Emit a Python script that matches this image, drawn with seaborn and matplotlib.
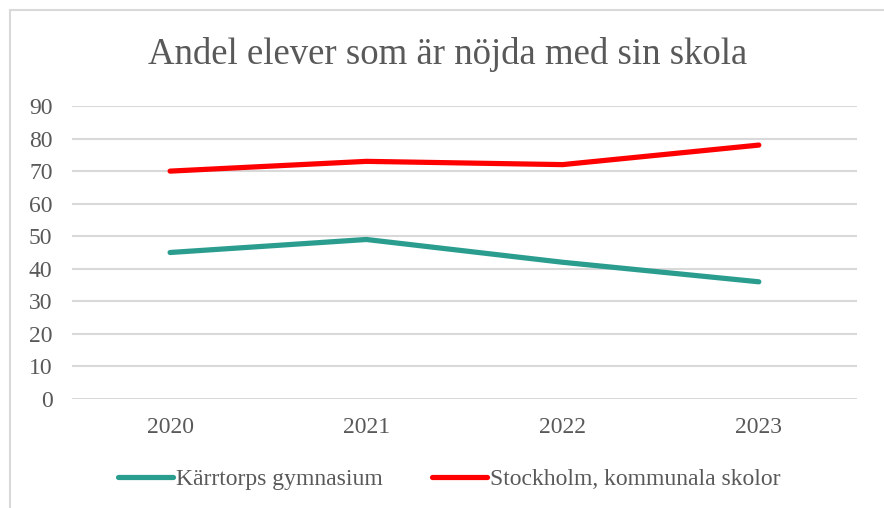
import pandas as pd
import matplotlib.pyplot as plt
import matplotlib.patches as mpatches
import seaborn as sns

# data
years = ['2020', '2021', '2022', '2023']
karrtorp = [45, 49, 42, 36]
stockholm = [70, 73, 72, 78]
series_names = ['Kärrtorps gymnasium', 'Stockholm, kommunala skolor']
colors = ['#2A9D8F', '#FF0000']

df = pd.DataFrame({
    'År': years * 2,
    'Andel': karrtorp + stockholm,
    'Serie': [series_names[0]] * 4 + [series_names[1]] * 4,
})

sns.set_style('white')
plt.rcParams['font.family'] = ['Liberation Serif', 'DejaVu Serif']
text_color = '#595959'

fig = plt.figure(figsize=(8.84, 5.08), dpi=100)
ax = fig.add_axes([0.0814, 0.2146, 0.888, 0.5767])

# chart border (only left and top visible in the crop)
fig.patches.append(mpatches.Rectangle((0.011, -0.05), 1.2, 1.03, transform=fig.transFigure,
                                      fill=False, edgecolor='#D9D9D9', linewidth=1.5))

sns.lineplot(data=df, x='År', y='Andel', hue='Serie', palette=colors, linewidth=3.75,
             solid_capstyle='round', sort=False, ax=ax, legend=False)

ax.set_xlim(-0.5, 3.5)
ax.set_ylim(0, 90)
ax.set_yticks(range(0, 91, 10))
ax.grid(axis='y', color='#D9D9D9', linewidth=1.5)
ax.set_axisbelow(True)
for s in ax.spines.values():
    s.set_visible(False)
ax.tick_params(axis='both', length=0, labelsize=17, labelcolor=text_color)
ax.tick_params(axis='y', pad=14)
ax.tick_params(axis='x', pad=13)
ax.set_xlabel('')
ax.set_ylabel('')

fig.text(0.506, 0.893, 'Andel elever som är nöjda med sin skola', ha='center', va='center',
         fontsize=26.5, color=text_color)

handles = [plt.Line2D([], [], color=c, linewidth=3.75, solid_capstyle='round') for c in colors]
fig.legend(handles, series_names, loc='center', bbox_to_anchor=(0.5085, 0.056), ncol=2,
           frameon=False, fontsize=17, handlelength=2.3, handletextpad=0.15, columnspacing=2.1,
           labelcolor=text_color)

plt.savefig('out.png', dpi=100)
